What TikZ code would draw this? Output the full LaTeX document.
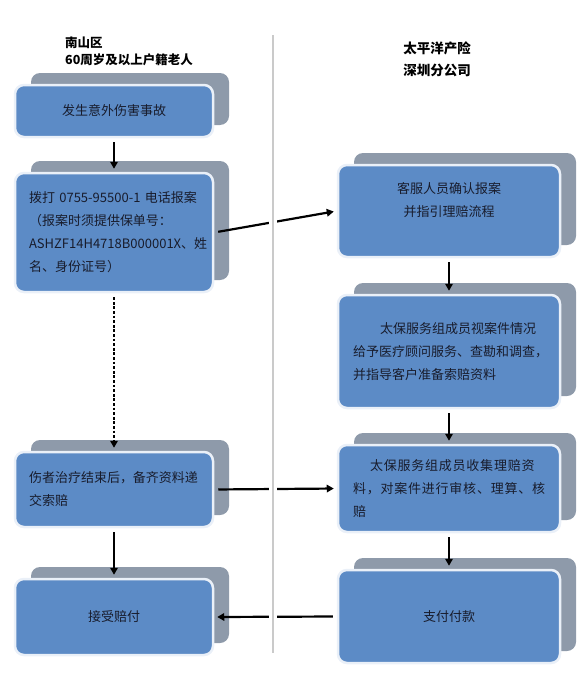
\documentclass[tikz,border=0pt]{standalone}
\usepackage{fontspec}
\setmainfont{Noto Sans CJK SC}
\usetikzlibrary{arrows.meta,shadows}
\definecolor{boxblue}{RGB}{92,139,198}
\definecolor{boxgray}{RGB}{142,154,170}
\definecolor{boxrim}{RGB}{234,240,248}
\definecolor{inkdark}{RGB}{24,28,44}
\definecolor{rulegray}{RGB}{202,202,202}
\tikzset{
  card/.style={draw=boxrim, line width=2.5pt, fill=boxblue, rounded corners=9pt, text=inkdark,
    copy shadow={shadow xshift=16pt, shadow yshift=12pt, fill=boxgray, draw=none}},
  leftcard/.style={card, minimum width=198pt},
  rightcard/.style={card, minimum width=222pt},
  flow/.style={line width=2.2pt, -{Triangle[length=7pt,width=7.5pt]}, shorten <=4pt, shorten >=3pt},
  head/.style={font=\bfseries, inner sep=0pt}
}
\begin{document}
\begin{tikzpicture}[x=1pt, y=-1pt, font=\fontsize{13pt}{23pt}\selectfont]
    \useasboundingbox (0,0) rectangle (579,680);
    \node[head, anchor=west, align=left, font=\fontsize{12.5pt}{17pt}\selectfont\bfseries] (lhead) at (65,51.5) {南山区\\60周岁及以上户籍老人};
    \node[head, align=center, font=\fontsize{13.5pt}{22pt}\selectfont\bfseries] (rhead) at (437,59) {太平洋产险\\深圳分公司};
    \node[leftcard, minimum height=52pt] (accident) at (114,111) {发生意外伤害事故};
    \node[leftcard, minimum height=119pt, text width=170pt, align=left] (call) at (114,232.5)
        {拨打 0755-95500-1 电话报案\\（报案时须提供保单号：\\ASHZF14H4718B000001X、姓\\名、身份证号）};
    \node[leftcard, minimum height=75pt, text width=170pt, align=left] (treat) at (114,489.5)
        {伤者治疗结束后，备齐资料递\\交索赔};
    \node[leftcard, minimum height=76pt] (accept) at (114,617) {接受赔付};
    \node[rightcard, minimum height=92pt, align=center] (confirm) at (449,211) {客服人员确认报案\\并指引理赔流程\\\mbox{}};
    \node[rightcard, minimum height=113pt, text width=192pt, align=left] (guide) at (449,351.5)
        {\hspace*{27pt}太保服务组成员视案件情况\\给予医疗顾问服务、查勘和调查，\\并指导客户准备索赔资料};
    \node[rightcard, minimum height=87pt, text width=192pt, align=left] (review) at (449,488.5)
        {\addfontfeature{LetterSpace=6}\hspace*{17pt}太保服务组成员收集理赔资\\料，对案件进行审核、理算、核\\赔};
    \node[rightcard, minimum height=93pt] (pay) at (449,616.5) {支付付款};
    \draw[flow] (accident) -- (call);
    \draw[flow, line width=2.6pt, dash pattern=on 2.8pt off 1.8pt] (call) -- (treat);
    \draw[flow] (treat) -- (accept);
    \draw[flow] (confirm) -- (guide);
    \draw[flow] (guide) -- (review);
    \draw[flow] (review) -- (pay);
    \draw[flow] (call.east) -- (confirm.west);
    \draw[flow] (treat.east) -- (review.west);
    \draw[flow] (pay.west) -- (accept.east);
    \coordinate (septop) at (273,35);
    \coordinate (sepbot) at (273,653);
    \draw[white, line width=8pt] (septop) -- (sepbot);
    \draw[rulegray, line width=2pt] (septop) -- (sepbot);
\end{tikzpicture}
\end{document}
